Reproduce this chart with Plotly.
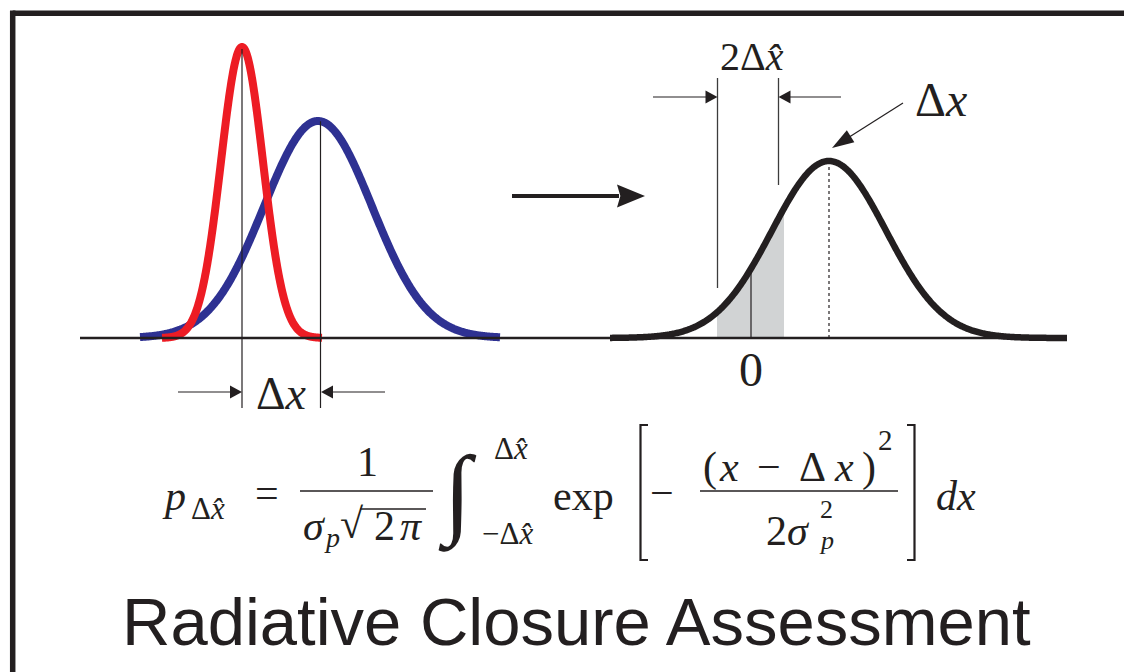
import numpy as np
import plotly.graph_objects as go

W, H = 1124, 672
INK = "#231f20"
SERIF = "Liberation Serif"
SANS = "Liberation Sans"

# Gaussian profiles (y = height above the axis line)
profile_names = ["narrow", "broad", "difference"]
profile_centres = [242, 318, 829]
profile_sigmas = [21, 54, 57]
profile_peaks = [291, 217, 177]
profile_starts = [162, 140, 610]
profile_ends = [322, 500, 1067]
profile_colors = ["#ed1c24", "#2e3192", INK]
profile_widths = [8, 8, 6.5]

# integration window [-dx_hat, +dx_hat] around zero of the difference profile
zero_pos = 751
window = [717, 784]
window_marks = [717.5, 778.5]


def profile(i, x):
    return profile_peaks[i] * np.exp(-0.5 * ((x - profile_centres[i]) / profile_sigmas[i]) ** 2)


fig = go.Figure()

# shaded integration window under the difference profile
xs = np.linspace(window[0], window[1], 60)
fig.add_trace(go.Scatter(
    x=np.concatenate([[window[0]], xs, [window[1]]]),
    y=np.concatenate([[0], profile(2, xs), [0]]),
    fill="toself", fillcolor="#d1d3d4", line=dict(width=0),
    mode="lines", hoverinfo="skip", showlegend=False))

for i in [1, 0, 2]:
    xs = np.linspace(profile_starts[i], profile_ends[i], 500)
    fig.add_trace(go.Scatter(
        x=xs, y=profile(i, xs), mode="lines", name=profile_names[i],
        line=dict(color=profile_colors[i], width=profile_widths[i], simplify=False),
        hoverinfo="skip", showlegend=False))

shapes = []
annotations = []


def seg(x0, y0, x1, y1, width=1.2, color=INK, dash=None):
    shapes.append(dict(type="line", xref="x", yref="y", x0=x0, y0=y0, x1=x1, y1=y1,
                       line=dict(color=color, width=width, dash=dash)))


def arrow(x0, y0, x1, y1, head_len=12, head_half=6, width=1.2, notch=0.0):
    dx, dy = x1 - x0, y1 - y0
    L = float(np.hypot(dx, dy))
    ux, uy = dx / L, dy / L
    bx, by = x1 - ux * head_len, y1 - uy * head_len
    seg(x0, y0, bx + ux * 2, by + uy * 2, width)
    px, py = -uy, ux
    nx, ny = bx + ux * head_len * notch, by + uy * head_len * notch
    path = (f"M {x1},{y1} L {bx + px * head_half},{by + py * head_half} "
            f"L {nx},{ny} L {bx - px * head_half},{by - py * head_half} Z")
    shapes.append(dict(type="path", xref="x", yref="y", path=path,
                       fillcolor=INK, line=dict(width=0)))


def label(x, y, text, size, anchor="center", family=SERIF):
    annotations.append(dict(x=x, y=y, xref="x", yref="y", text=text, showarrow=False,
                            xanchor=anchor, yanchor="middle", borderpad=0,
                            font=dict(family=family, size=size, color=INK)))


def bracket(x_inner, x_outer, y_top, y_bottom):
    shapes.append(dict(type="path", xref="x", yref="y",
                       path=f"M {x_inner},{y_top} L {x_outer},{y_top} "
                            f"L {x_outer},{y_bottom} L {x_inner},{y_bottom}",
                       line=dict(color=INK, width=2.2)))


# frame
seg(12.7, 324.7, 1130, 324.7, width=5.5)
seg(12.7, 327.4, 12.7, -340, width=5.5)

# axis line
seg(80, 0, 1067, 0, width=2.5)

# left panel: peak markers and offset arrows
seg(profile_centres[0], profile_peaks[0] - 2, profile_centres[0], -70, width=1.2)
seg(320.5, float(profile(1, 320.5)), 320.5, -70, width=1.2)
arrow(178, -54, 242, -54, head_len=12, head_half=6.5)
arrow(385, -54, 321, -54, head_len=12, head_half=6.5)
label(281, -55, "Δ<i>x</i>", 46)

# transition arrow
arrow(512, 142, 645, 142, head_len=28, head_half=11.5, width=4, notch=0.12)

# right panel: window marks, zero line and peak marker
seg(window_marks[0], 260, window_marks[0], 50, width=1.3, color="#3c3c3c")
seg(window_marks[1], 260, window_marks[1], 153, width=1.3, color="#3c3c3c")
seg(zero_pos, 0, zero_pos, float(profile(2, zero_pos)), width=1.2)
seg(profile_centres[2], 0, profile_centres[2], profile_peaks[2] - 2, width=1.2, dash="dot")
arrow(653, 241, window_marks[0], 241, head_len=12, head_half=6.5)
arrow(841, 241, window_marks[1], 241, head_len=12, head_half=6.5)
label(752, 282, "2Δ<i>x\u0302</i>", 40)
label(941, 239, "Δ<i>x</i>", 48)
arrow(903, 235, 832, 190, head_len=22, head_half=7)
label(751, -31, "0", 48)

# formula: p = 1/(sigma sqrt(2 pi)) * integral exp[-(x - dx)^2 / (2 sigma^2)] dx
label(174, -158, "<i>p</i>", 42)
label(208, -170, "Δ<i>x\u0302</i>", 31)
label(267, -155, "=", 42)
label(367, -124, "1", 42)
seg(300, -153, 433, -153, width=1.6)
label(314, -188, "<i>σ</i>", 42)
label(332, -199, "<i>p</i>", 28)
label(352, -186, "√", 42)
seg(360, -171, 426, -171, width=1.6)
label(384, -188, "2", 42)
label(411, -188, "<i>π</i>", 42)
label(457, -156, "∫", 100)
label(511, -110, "Δ<i>x\u0302</i>", 31)
label(507, -195, "−Δ<i>x\u0302</i>", 31)
label(583, -158, "exp", 42)
bracket(648, 640.5, -87, -222)
label(662, -155, "−", 42)
label(710, -129, "(", 42)
label(729, -129, "<i>x</i>", 42)
label(769, -129, "−", 42)
label(812, -129, "Δ", 42)
label(844, -129, "<i>x</i>", 42)
label(869, -129, ")", 42)
label(885, -102, "2", 29)
seg(700, -153, 898, -153, width=1.6)
label(788, -193, "2<i>σ</i>", 42)
label(826, -171, "2", 26)
label(826, -202, "<i>p</i>", 26)
bracket(907, 914.5, -87, -222)
label(956, -158, "<i>dx</i>", 42)

# title
label(576, -283, "Radiative Closure Assessment", 67, family=SANS)

fig.update_layout(
    width=W, height=H, margin=dict(l=0, r=0, t=0, b=0),
    paper_bgcolor="white", plot_bgcolor="white",
    xaxis=dict(range=[0, W], visible=False, fixedrange=True),
    yaxis=dict(range=[-(H - 338), 338], visible=False, fixedrange=True),
    shapes=shapes, annotations=annotations, showlegend=False)

fig.write_html("out.html")
